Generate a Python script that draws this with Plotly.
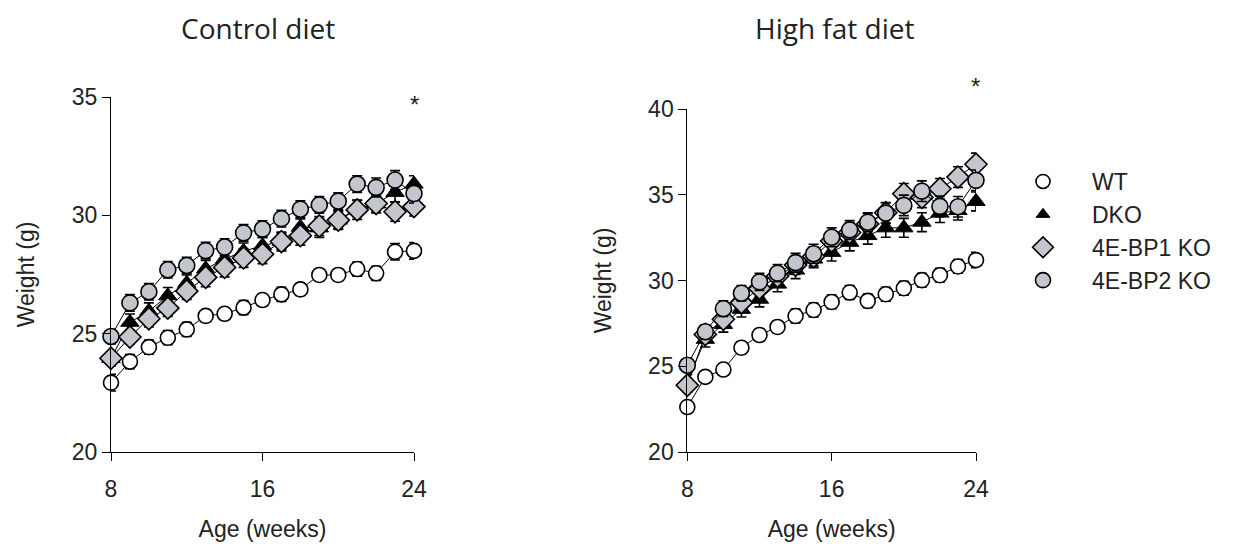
import plotly.graph_objects as go

weeks = list(range(8, 25))
tick_vals = [8, 16, 24]

# Control diet (left panel)
ctrl_wt = [22.93, 23.82, 24.43, 24.83, 25.18, 25.75, 25.84, 26.10, 26.42, 26.66, 26.87, 27.48, 27.48, 27.73, 27.55, 28.46, 28.50]
ctrl_dko = [23.95, 25.48, 25.95, 26.60, 27.13, 27.74, 28.15, 28.48, 28.72, 28.90, 29.50, 29.47, 29.80, 30.30, 30.48, 30.97, 31.32]
ctrl_bp1 = [23.96, 24.86, 25.63, 26.08, 26.80, 27.38, 27.80, 28.20, 28.36, 28.89, 29.14, 29.55, 29.80, 30.23, 30.50, 30.15, 30.37]
ctrl_bp2 = [24.88, 26.30, 26.77, 27.70, 27.88, 28.51, 28.66, 29.26, 29.42, 29.86, 30.26, 30.44, 30.60, 31.32, 31.18, 31.49, 30.92]

ctrl_wt_err = [0.35, 0.30, 0.30, 0.30, 0.30, 0.25, 0.25, 0.30, 0.25, 0.30, 0.25, 0.25, 0.25, 0.30, 0.30, 0.35, 0.35]
ctrl_dko_err = [0.30, 0.35, 0.35, 0.35, 0.35, 0.35, 0.35, 0.35, 0.35, 0.35, 0.35, 0.40, 0.35, 0.35, 0.35, 0.40, 0.35]
ctrl_bp1_err = [0.30, 0.30, 0.35, 0.35, 0.35, 0.40, 0.40, 0.40, 0.40, 0.40, 0.40, 0.40, 0.40, 0.40, 0.40, 0.40, 0.40]
ctrl_bp2_err = [0.30, 0.35, 0.35, 0.35, 0.35, 0.35, 0.35, 0.35, 0.35, 0.35, 0.35, 0.35, 0.35, 0.35, 0.40, 0.40, 0.40]

# High fat diet (right panel)
hfd_wt = [22.62, 24.38, 24.81, 26.08, 26.82, 27.29, 27.93, 28.28, 28.75, 29.30, 28.81, 29.20, 29.55, 30.02, 30.31, 30.82, 31.19]
hfd_dko = [24.12, 26.57, 27.44, 28.32, 28.91, 29.79, 30.61, 31.25, 31.64, 32.23, 32.62, 33.07, 33.07, 33.40, 33.93, 34.08, 34.61]
hfd_bp1 = [23.89, 26.85, 27.74, 28.71, 29.55, 30.25, 30.90, 31.40, 32.30, 32.80, 33.30, 33.95, 35.06, 34.85, 35.35, 36.03, 36.78]
hfd_bp2 = [25.06, 27.01, 28.36, 29.26, 29.92, 30.43, 31.04, 31.56, 32.52, 32.95, 33.40, 33.93, 34.38, 35.21, 34.32, 34.30, 35.84]

hfd_wt_err = [0.30, 0.30, 0.30, 0.35, 0.35, 0.35, 0.40, 0.40, 0.40, 0.40, 0.40, 0.40, 0.40, 0.40, 0.40, 0.40, 0.45]
hfd_dko_err = [0.40, 0.45, 0.45, 0.45, 0.45, 0.45, 0.50, 0.50, 0.50, 0.50, 0.50, 0.55, 0.55, 0.55, 0.55, 0.55, 0.55]
hfd_bp1_err = [0.40, 0.45, 0.45, 0.50, 0.50, 0.50, 0.55, 0.55, 0.55, 0.60, 0.60, 0.60, 0.60, 0.60, 0.60, 0.60, 0.65]
hfd_bp2_err = [0.40, 0.40, 0.45, 0.45, 0.50, 0.50, 0.55, 0.55, 0.55, 0.55, 0.55, 0.60, 0.60, 0.60, 0.60, 0.60, 0.60]

series_names = ["WT", "DKO", "4E-BP1 KO", "4E-BP2 KO"]
GRAY = "#c3c7cd"
styles = {
    "WT": dict(symbol="circle", size=15, color="white", line=dict(color="black", width=1.6)),
    "DKO": dict(symbol="triangle-up", size=16, color="black", line=dict(color="black", width=1)),
    "4E-BP1 KO": dict(symbol="diamond", size=17, color=GRAY, line=dict(color="black", width=1.6)),
    "4E-BP2 KO": dict(symbol="circle", size=16, color=GRAY, line=dict(color="black", width=1.6)),
}
legend_styles = {
    "WT": dict(symbol="circle", size=14, color="white", line=dict(color="black", width=1.6)),
    "DKO": dict(symbol="triangle-up", size=12, color="black", line=dict(color="black", width=1)),
    "4E-BP1 KO": dict(symbol="diamond", size=17, color=GRAY, line=dict(color="black", width=1.6)),
    "4E-BP2 KO": dict(symbol="circle", size=15, color=GRAY, line=dict(color="black", width=1.6)),
}

panels = [
    ("x", "y", [ctrl_wt, ctrl_dko, ctrl_bp1, ctrl_bp2], [ctrl_wt_err, ctrl_dko_err, ctrl_bp1_err, ctrl_bp2_err]),
    ("x2", "y2", [hfd_wt, hfd_dko, hfd_bp1, hfd_bp2], [hfd_wt_err, hfd_dko_err, hfd_bp1_err, hfd_bp2_err]),
]

fig = go.Figure()
for xa, ya, vals, errs in panels:
    for name, v, e in zip(series_names, vals, errs):
        fig.add_trace(go.Scatter(
            x=weeks, y=v, xaxis=xa, yaxis=ya, mode="lines+markers", name=name,
            showlegend=False, cliponaxis=False,
            line=dict(color="black", width=1),
            marker=styles[name],
            error_y=dict(type="data", array=e, visible=True, color="black", thickness=1.6, width=5),
        ))

for name in series_names:
    fig.add_trace(go.Scatter(x=[None], y=[None], mode="markers", name=name,
                             marker=legend_styles[name], showlegend=True))

tick_font = dict(family="Liberation Sans, Arial, sans-serif", size=23, color="#222222")
axis_common = dict(showline=True, linecolor="black", linewidth=1, ticks="outside", ticklen=8,
                   tickcolor="black", tickwidth=1, showgrid=False, zeroline=False, automargin=False,
                   tickfont=tick_font, title_font=tick_font)

W, H, OFF = 1233, 548, 8  # page body offset compensation


def px_x(p):
    return (p - OFF) / W


def px_y(p):
    return 1 - (p - OFF) / H


fig.update_layout(
    width=W, height=H,
    margin=dict(l=0, r=0, t=0, b=0),
    paper_bgcolor="white", plot_bgcolor="white",
    xaxis=dict(domain=[px_x(111), px_x(414)], range=[8, 24], tickvals=tick_vals, anchor="y",
               ticklabelstandoff=8, title=dict(text="Age (weeks)", standoff=20), **axis_common),
    yaxis=dict(domain=[px_y(452), px_y(97)], range=[20, 35], tickvals=[20, 25, 30, 35], anchor="x",
               title=dict(text="Weight (g)", standoff=30), **axis_common),
    xaxis2=dict(domain=[px_x(687.3), px_x(976)], range=[8, 24], tickvals=tick_vals, anchor="y2",
                ticklabelstandoff=8, title=dict(text="Age (weeks)", standoff=20), **axis_common),
    yaxis2=dict(domain=[px_y(452), px_y(109)], range=[20, 40], tickvals=[20, 25, 30, 35, 40], anchor="x2",
                title=dict(text="Weight (g)", standoff=30), **axis_common),
    legend=dict(x=px_x(994), y=px_y(160), xanchor="left", yanchor="top", itemwidth=88,
                font=dict(family="Liberation Sans, Arial, sans-serif", size=23, color="#222222"),
                bgcolor="rgba(0,0,0,0)", tracegroupgap=0),
    showlegend=True,
)

title_font = dict(family="Open Sans, Noto Sans, sans-serif", size=28, color="#222222")
fig.add_annotation(text="Control diet", xref="paper", yref="paper", x=px_x(257.5), y=1,
                   showarrow=False, font=title_font, xanchor="center", yanchor="top", borderpad=0)
fig.add_annotation(text="High fat diet", xref="paper", yref="paper", x=px_x(835), y=1,
                   showarrow=False, font=title_font, xanchor="center", yanchor="top", borderpad=0)
star_font = dict(family="Liberation Sans, Arial, sans-serif", size=24, color="#222222")
fig.add_annotation(text="*", xref="x", yref="paper", x=24, y=px_y(104), showarrow=False, font=star_font,
                   yanchor="middle")
fig.add_annotation(text="*", xref="x2", yref="paper", x=24, y=px_y(86), showarrow=False, font=star_font,
                   yanchor="middle")

fig.write_html("out.html")
